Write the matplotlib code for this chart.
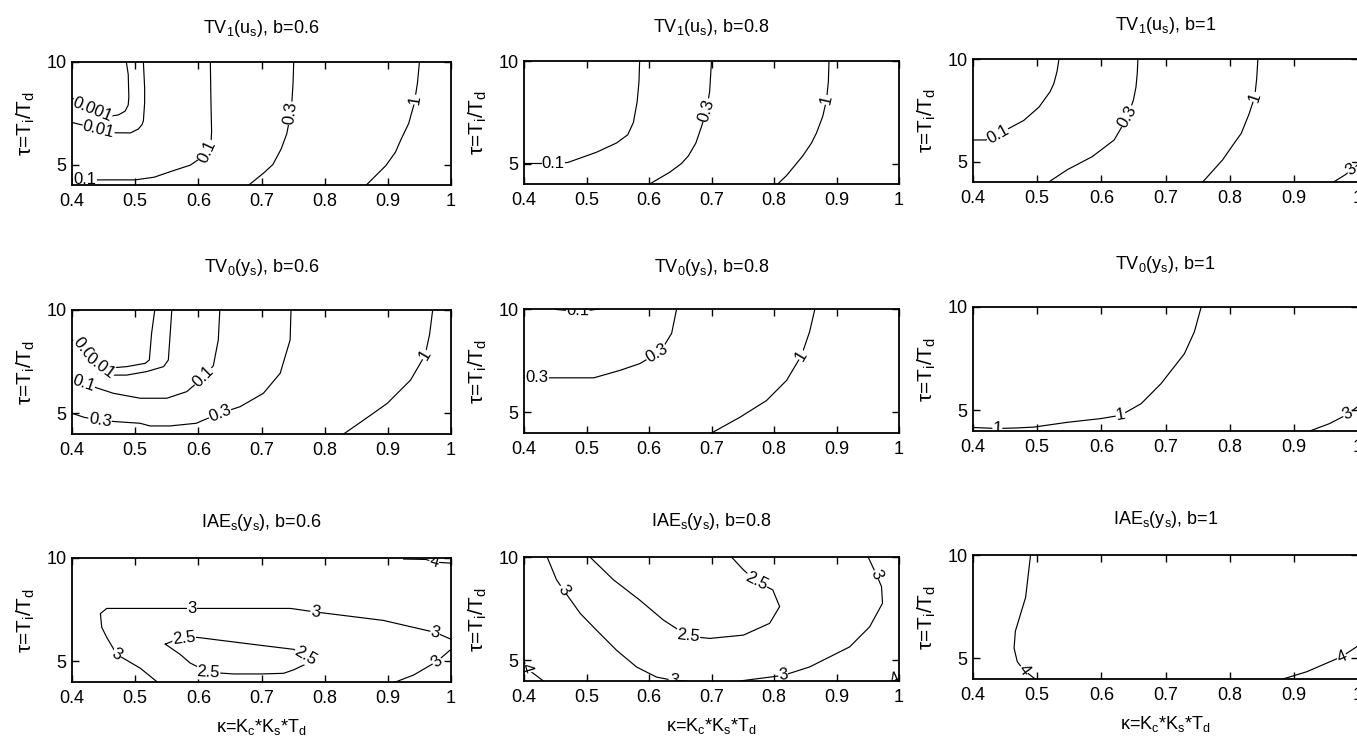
import numpy as np
import matplotlib
matplotlib.use("Agg")
import matplotlib.pyplot as plt

plt.rcParams['font.family'] = ['Liberation Sans Narrow', 'Liberation Sans', 'DejaVu Sans']
plt.rcParams['mathtext.default'] = 'regular'

# ---------------------------------------------------------------------------
# Contour data: each entry is (level, kappa values, tau values) along one line
# ---------------------------------------------------------------------------
tv1_b06 = [
    (0.001, [0.4, 0.41, 0.43, 0.45, 0.463, 0.4735, 0.484, 0.489, 0.490, 0.489, 0.486],
            [8.25, 8.05, 7.7, 7.45, 7.37, 7.42, 7.6, 7.9, 8.3, 9.4, 10.0]),
    (0.01,  [0.4, 0.42, 0.44, 0.463, 0.4925, 0.505, 0.511, 0.513, 0.515, 0.515, 0.513],
            [7.05, 6.9, 6.72, 6.55, 6.54, 6.73, 6.95, 7.13, 8.0, 8.74, 10.0]),
    (0.1,   [0.4, 0.45, 0.5, 0.53, 0.5556, 0.5873, 0.603, 0.614, 0.620, 0.621, 0.620, 0.619],
            [4.25, 4.25, 4.25, 4.38, 4.65, 4.97, 5.3, 5.6, 6.0, 6.6, 8.0, 10.0]),
    (0.3,   [0.680, 0.704, 0.718, 0.731, 0.740, 0.745, 0.748, 0.750, 0.751],
            [4.0, 4.6, 5.0, 5.75, 6.5, 7.3, 8.0, 9.0, 10.0]),
    (1,     [0.866, 0.897, 0.912, 0.921, 0.933, 0.942, 0.947, 0.950],
            [4.0, 4.95, 5.6, 6.23, 7.0, 8.0, 9.0, 10.0]),
]
tv1_b06_labels = [(0, 0.431, 7.6), (1, 0.442, 6.72), (2, 0.421, 4.25),
                  (2, 0.614, 5.65), (3, 0.745, 7.5), (4, 0.944, 8.16)]

tv1_b08 = [
    (0.1, [0.4, 0.447, 0.47, 0.484, 0.516, 0.548, 0.566, 0.575, 0.581, 0.584, 0.585],
          [5.0, 5.0, 5.05, 5.2, 5.55, 6.0, 6.4, 7.0, 8.0, 9.0, 10.0]),
    (0.3, [0.601, 0.633, 0.652, 0.663, 0.675, 0.684, 0.692, 0.697, 0.700],
          [4.0, 4.57, 5.0, 5.37, 6.0, 6.8, 7.6, 8.5, 10.0]),
    (1,   [0.806, 0.820, 0.846, 0.860, 0.868, 0.878, 0.884, 0.887, 0.888],
          [4.0, 4.41, 5.37, 6.0, 6.49, 7.3, 8.1, 9.0, 10.0]),
]
tv1_b08_labels = [(0, 0.447, 5.0), (1, 0.692, 7.6), (2, 0.884, 8.1)]

tv1_b10 = [
    (0.1, [0.4, 0.42, 0.438, 0.455, 0.479, 0.503, 0.52, 0.526, 0.531, 0.534],
          [6.05, 6.05, 6.3, 6.6, 7.0, 7.66, 8.4, 8.8, 9.4, 10.0]),
    (0.3, [0.518, 0.547, 0.586, 0.620, 0.641, 0.650, 0.654, 0.656, 0.657],
          [4.0, 4.6, 5.24, 6.05, 7.18, 8.0, 8.63, 9.3, 10.0]),
    (1,   [0.758, 0.789, 0.805, 0.818, 0.830, 0.839, 0.842, 0.844],
          [4.0, 5.08, 5.8, 6.37, 7.3, 8.15, 9.0, 10.0]),
    (3,   [0.962, 0.98, 0.99, 1.0],
          [4.0, 4.35, 4.6, 4.85]),
]
tv1_b10_labels = [(0, 0.4375, 6.37), (1, 0.641, 7.18), (2, 0.839, 8.15), (3, 0.99, 4.6)]

tv0_b06 = [
    (0.001, [0.4, 0.4153, 0.426, 0.44, 0.4628, 0.4866, 0.516, 0.5224, 0.526, 0.531],
            [8.55, 8.22, 7.8, 7.45, 7.2, 7.26, 7.42, 7.58, 8.87, 10.0]),
    (0.01,  [0.4, 0.41, 0.425, 0.445, 0.4654, 0.4866, 0.5182, 0.545, 0.5525, 0.5555, 0.558],
            [8.31, 8.08, 7.75, 7.3, 6.85, 6.85, 7.02, 7.26, 7.58, 8.87, 10.0]),
    (0.1,   [0.4, 0.418, 0.4364, 0.4654, 0.508, 0.55, 0.5816, 0.600, 0.612, 0.6237, 0.6316, 0.634],
            [6.74, 6.45, 6.26, 5.97, 5.73, 5.73, 6.05, 6.53, 6.9, 7.3, 8.55, 10.0]),
    (0.3,   [0.4, 0.42, 0.4443, 0.468, 0.5076, 0.5235, 0.555, 0.597, 0.6026, 0.634, 0.666,
             0.703, 0.7296, 0.7453, 0.7467],
            [5.0, 4.8, 4.68, 4.6, 4.52, 4.39, 4.39, 4.52, 4.6, 5.0, 5.32, 5.97, 6.94, 8.55, 10.0]),
    (1,     [0.830, 0.862, 0.899, 0.936, 0.959, 0.966, 0.971],
            [4.0, 4.68, 5.48, 6.61, 7.82, 8.8, 10.0]),
]
tv0_b06_labels = [(0, 0.426, 7.8), (1, 0.445, 7.3), (2, 0.418, 6.4), (2, 0.608, 6.77),
                  (3, 0.4443, 4.68), (3, 0.634, 5.0), (4, 0.959, 7.82)]

tv0_b08 = [
    (0.1, [0.45, 0.47, 0.50, 0.52],
          [9.98, 9.93, 9.92, 10.0]),
    (0.3, [0.4, 0.4203, 0.4405, 0.5117, 0.5535, 0.5855, 0.6122, 0.6228, 0.6362, 0.6442],
          [6.67, 6.67, 6.67, 6.67, 7.03, 7.36, 7.84, 8.16, 8.82, 10.0]),
    (1,   [0.700, 0.7454, 0.788, 0.820, 0.8441, 0.857, 0.8654],
          [4.0, 4.76, 5.57, 6.54, 7.76, 8.9, 10.0]),
]
tv0_b08_labels = [(0, 0.486, 9.92), (1, 0.4203, 6.67), (1, 0.6122, 7.84), (2, 0.8441, 7.76)]

tv0_b10 = [
    (1, [0.4, 0.438, 0.47, 0.495, 0.547, 0.599, 0.630, 0.662, 0.693, 0.7295, 0.745, 0.7556],
        [4.17, 4.12, 4.15, 4.19, 4.42, 4.6, 4.76, 5.32, 6.29, 7.74, 8.8, 10.0]),
    (3, [0.925, 0.955, 0.984, 1.0],
        [4.0, 4.35, 4.81, 5.2]),
]
tv0_b10_labels = [(0, 0.438, 4.12), (0, 0.630, 4.76), (1, 0.984, 4.81)]

iae_b06 = [
    (3,   [0.535, 0.508, 0.471, 0.455, 0.447, 0.445, 0.455, 0.50, 0.590, 0.70, 0.746,
           0.785, 0.893, 0.975, 1.0],
          [4.0, 4.67, 5.33, 6.16, 6.65, 7.31, 7.56, 7.56, 7.56, 7.56, 7.56,
           7.39, 6.98, 6.4, 6.07]),
    (3,   [1.0, 0.978, 0.941, 0.912],
          [5.58, 5.0, 4.34, 4.0]),
    (2.5, [0.5478, 0.565, 0.598, 0.65, 0.70, 0.751, 0.7694, 0.785, 0.751, 0.735, 0.70,
           0.656, 0.616, 0.587, 0.5715, 0.5478],
          [5.83, 6.05, 6.16, 5.96, 5.77, 5.58, 5.25, 5.08, 4.59, 4.42, 4.39,
           4.39, 4.47, 4.92, 5.33, 5.83]),
    (4,   [0.925, 0.96, 0.975, 1.0],
          [9.95, 9.93, 9.8, 9.75]),
]
iae_b06_labels = [(0, 0.471, 5.33), (0, 0.590, 7.56), (0, 0.785, 7.39), (0, 0.975, 6.4),
                  (1, 0.978, 5.0), (2, 0.578, 5.95), (2, 0.7694, 5.25), (2, 0.616, 4.47),
                  (3, 0.973, 9.78)]

iae_b08 = [
    (3,   [0.437, 0.452, 0.463, 0.490, 0.516, 0.548, 0.580, 0.612, 0.639, 0.66],
          [10.0, 8.9, 8.41, 7.27, 6.46, 5.49, 4.68, 4.19, 4.03, 4.0]),
    (3,   [0.745, 0.8147, 0.857, 0.921, 0.953, 0.9736, 0.972, 0.964, 0.9506],
          [4.0, 4.27, 4.68, 5.65, 6.62, 7.76, 8.57, 9.14, 10.0]),
    (2.5, [0.5055, 0.543, 0.585, 0.623, 0.6628, 0.697, 0.751, 0.793, 0.809, 0.798, 0.772,
           0.751, 0.732],
          [10.0, 8.9, 7.92, 6.95, 6.17, 6.06, 6.22, 6.79, 7.6, 8.41, 8.81, 9.38, 10.0]),
    (4,   [0.4, 0.404, 0.418, 0.431],
          [5.0, 4.6, 4.3, 4.0]),
    (4,   [0.985, 1.0],
          [4.0, 4.2]),
]
iae_b08_labels = [(0, 0.463, 8.41), (0, 0.639, 4.03), (1, 0.8147, 4.27), (1, 0.964, 9.14),
                  (2, 0.6628, 6.14), (2, 0.772, 8.81), (3, 0.404, 4.6), (4, 0.993, 4.1)]

iae_b10 = [
    (4, [0.4897, 0.482, 0.466, 0.464, 0.469, 0.479, 0.497],
        [10.0, 7.95, 6.31, 5.49, 4.84, 4.43, 4.0]),
    (4, [0.883, 0.92, 0.9745, 1.0],
        [4.0, 4.35, 5.08, 5.6]),
]
iae_b10_labels = [(0, 0.479, 4.43), (1, 0.9745, 5.08)]

titles = [
    ["TV$_1$(u$_s$), b=0.6", "TV$_1$(u$_s$), b=0.8", "TV$_1$(u$_s$), b=1"],
    ["TV$_0$(y$_s$), b=0.6", "TV$_0$(y$_s$), b=0.8", "TV$_0$(y$_s$), b=1"],
    ["IAE$_s$(y$_s$), b=0.6", "IAE$_s$(y$_s$), b=0.8", "IAE$_s$(y$_s$), b=1"],
]
panels = [
    [(tv1_b06, tv1_b06_labels), (tv1_b08, tv1_b08_labels), (tv1_b10, tv1_b10_labels)],
    [(tv0_b06, tv0_b06_labels), (tv0_b08, tv0_b08_labels), (tv0_b10, tv0_b10_labels)],
    [(iae_b06, iae_b06_labels), (iae_b08, iae_b08_labels), (iae_b10, iae_b10_labels)],
]
kappa_ticks = [0.4, 0.5, 0.6, 0.7, 0.8, 0.9, 1.0]
tau_ticks = [5, 10]
ylabel_text = "τ=T$_i$/T$_d$"
xlabel_text = "κ=K$_c$*K$_s$*T$_d$"

# ---------------------------------------------------------------------------
W, H = 1357, 742
fig = plt.figure(figsize=(W / 100, H / 100), dpi=100)

col_x = [(72, 451), (524, 899), (973, 1358)]
row_y = [(61, 184), (309, 433), (557, 681)]
col_dy = [1, 0, -2]
title_pad = [21, 27, 22]
FS = 13


def add_label(ax, k, t, level, tk, tt):
    """Place an inline contour label on the polyline nearest to (tk, tt)."""
    pts = ax.transData.transform(np.column_stack([k, t]))
    p = ax.transData.transform((tk, tt))
    best = None
    for i in range(len(pts) - 1):
        a, b = pts[i], pts[i + 1]
        d = b - a
        L2 = float(d @ d)
        s = 0.0 if L2 == 0 else float(np.clip((p - a) @ d / L2, 0, 1))
        q = a + s * d
        dist = float(np.hypot(*(p - q)))
        if best is None or dist < best[0]:
            best = (dist, q, d)
    _, q, d = best
    ang = np.degrees(np.arctan2(d[1], d[0]))
    if ang > 90:
        ang -= 180
    elif ang <= -90:
        ang += 180
    x, y = ax.transData.inverted().transform(q)
    ax.text(x, y, f"{level:g}", rotation=ang, rotation_mode='anchor',
            ha='center', va='center', fontsize=FS - 1, zorder=2.2, clip_on=True,
            bbox=dict(boxstyle='square,pad=0.02', fc='white', ec='none'))


for r in range(3):
    for c in range(3):
        x0, x1 = col_x[c]
        y0, y1 = row_y[r]
        y0 += col_dy[c]
        y1 += col_dy[c]
        ax = fig.add_axes([x0 / W, 1 - y1 / H, (x1 - x0) / W, (y1 - y0) / H])
        ax.set_xlim(0.4, 1.0)
        ax.set_ylim(4, 10)
        ax.set_xticks(kappa_ticks)
        ax.set_xticklabels([f"{v:g}" for v in kappa_ticks])
        ax.set_yticks(tau_ticks)
        ax.tick_params(direction='in', top=True, right=True, length=5, width=1,
                       labelsize=FS, colors='black')
        ax.tick_params(axis='x', pad=6)
        ax.tick_params(axis='y', pad=4)
        for sp in ax.spines.values():
            sp.set_linewidth(1.3)
        segs, labels = panels[r][c]
        for level, k, t in segs:
            ax.plot(k, t, color='black', lw=0.85, zorder=2)
        for idx, tk, tt in labels:
            level, k, t = segs[idx]
            add_label(ax, k, t, level, tk, tt)
        ax.set_title(titles[r][c], fontsize=FS, pad=title_pad[r])
        ax.set_ylabel(ylabel_text, fontsize=15, labelpad=7)
        if r == 2:
            ax.set_xlabel(xlabel_text, fontsize=FS, labelpad=7)

fig.savefig("out.png", dpi=100, facecolor='white')
